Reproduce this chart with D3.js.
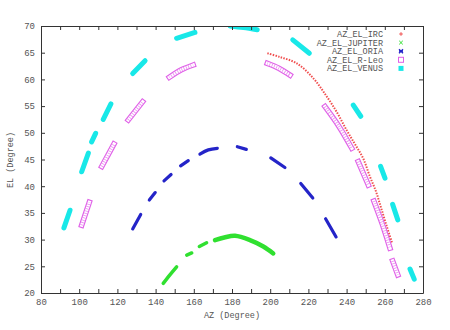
<!DOCTYPE html>
<html>
<head>
<meta charset="utf-8">
<script src="https://cdn.jsdelivr.net/npm/d3@7"></script>
<style>
  body { margin: 0; background: #fff; }
  svg text { font-family: "Liberation Mono", "DejaVu Sans Mono", monospace; fill: #555; }
</style>
</head>
<body>
<svg id="chart" width="450" height="330"></svg>
<script>
// series names (legend order = draw order)
const seriesNames = ["AZ_EL_IRC", "AZ_EL_JUPITER", "AZ_EL_ORIA", "AZ_EL_R-Leo", "AZ_EL_VENUS"];

const ircTrack = [
  [[198.5, 64.9], [205, 64.2], [213.9, 63], [222.6, 60.2], [229.6, 56.8], [235, 53.8], [240, 50.5],
   [244.5, 47.8], [248.7, 45.2], [252, 42], [255.4, 39], [258, 36], [261, 32.5], [263.9, 29.3]]
];
const jupiterTrack = [
  [[144, 21.8], [147.5, 23.4], [151, 24.9]],
  [[156.3, 27.1], [158.9, 27.5]],
  [[162.9, 28.7], [166.7, 29.4]],
  [[171.1, 29.9], [176, 30.4], [181.6, 30.7], [189.4, 29.9], [196.4, 28.7], [201.6, 27.4]]
];
const oriaTrack = [
  [[128, 32], [132.2, 34.7]],
  [[136.7, 37.4], [139.8, 38.8]],
  [[144.4, 41], [148.1, 42.2]],
  [[153.1, 43.8], [157.1, 44.8]],
  [[163.2, 46], [167.6, 46.8], [172.3, 47.1]],
  [[182.8, 47.4], [187.5, 46.9]],
  [[200.3, 45.3], [207.7, 43.5]],
  [[216, 40.5], [222.3, 37.8]],
  [[229, 33.9], [234.5, 30.5]]
];
const rleoTrack = [
  [[101.3, 32.7], [105.3, 37]],
  [[111.8, 43.7], [118.2, 47.9]],
  [[125.7, 52.4], [133.2, 55.8]],
  [[147.2, 60.4], [153.5, 61.8], [159.7, 62.7]],
  [[198.5, 63], [204.5, 62.1], [210.4, 60.8]],
  [[228.7, 54.9], [236, 51.2], [242.7, 47.1]],
  [[246.1, 44.6], [251.4, 40.2]],
  [[254.3, 37.2], [258.6, 33], [262.7, 28.4]],
  [[264.1, 26], [266.8, 23.4]]
];
const venusTrack = [
  [[92, 32.2], [95.2, 35.5]],
  [[101.3, 42.7], [104.8, 46.2]],
  [[106.5, 48.3], [108.6, 49.9]],
  [[112.6, 52.5], [116.6, 55.4]],
  [[128, 61.1], [134.5, 63.5]],
  [[151, 67.7], [160.6, 68.8]],
  [[179, 70], [186, 69.7], [193.2, 69.3]],
  [[211.8, 67.4], [220.5, 64.9]],
  [[243.5, 55.2], [247.4, 53.1]],
  [[257.8, 43.7], [260.1, 41.5]],
  [[264.1, 36.6], [266.8, 33.7]],
  [[273.2, 24.5], [275.4, 22.6]]
];

const xTicks = d3.range(80, 281, 10);
const xLabels = [80, 100, 120, 140, 160, 180, 200, 220, 240, 260, 280];
const yTicks = [20, 25, 30, 35, 40, 45, 50, 55, 60, 65, 70];

const colors = ["#f05050", "#30e030", "#2424c8", "#e060e8", "#18e8e8"];

const svg = d3.select("#chart");
const mLeft = 41, mRight = 423, mTop = 26, mBottom = 293;

const x = d3.scaleLinear().domain([80, 280]).range([mLeft, mRight]);
const y = d3.scaleLinear().domain([20, 70]).range([mBottom, mTop]);

// clip to plot area
svg.append("defs").append("clipPath").attr("id", "plot")
  .append("rect").attr("x", mLeft).attr("y", mTop).attr("width", mRight - mLeft).attr("height", mBottom - mTop);

const line = d3.line().x(d => x(d[0])).y(d => y(d[1])).curve(d3.curveCatmullRom);
const plot = svg.append("g").attr("clip-path", "url(#plot)");

// IRC: chain of small + marks
plot.append("g").selectAll("path").data(ircTrack).enter().append("path")
  .attr("d", line).attr("fill", "none")
  .attr("stroke", colors[0]).attr("stroke-width", 2).attr("stroke-dasharray", "1.5 1.3");

// JUPITER
plot.append("g").selectAll("path").data(jupiterTrack).enter().append("path")
  .attr("d", line).attr("fill", "none")
  .attr("stroke", colors[1]).attr("stroke-width", (d, i) => i === 3 ? 4.5 : 3.5).attr("stroke-linecap", "round");

// ORIA
plot.append("g").selectAll("path").data(oriaTrack).enter().append("path")
  .attr("d", line).attr("fill", "none")
  .attr("stroke", colors[2]).attr("stroke-width", 3.2).attr("stroke-linecap", "round");

// R-Leo: hollow hatched tube
const rl = plot.append("g");
rl.selectAll("path.o").data(rleoTrack).enter().append("path")
  .attr("d", line).attr("fill", "none")
  .attr("stroke", colors[3]).attr("stroke-width", 5.5).attr("stroke-linecap", "square");
rl.selectAll("path.i").data(rleoTrack).enter().append("path")
  .attr("d", line).attr("fill", "none")
  .attr("stroke", "#fff").attr("stroke-width", 3.3).attr("stroke-linecap", "square");
rl.selectAll("path.h").data(rleoTrack).enter().append("path")
  .attr("d", line).attr("fill", "none")
  .attr("stroke", colors[3]).attr("stroke-width", 3.3).attr("stroke-dasharray", "0.8 1.6").attr("opacity", 0.7);

// VENUS
plot.append("g").selectAll("path").data(venusTrack).enter().append("path")
  .attr("d", line).attr("fill", "none")
  .attr("stroke", colors[4]).attr("stroke-width", 5).attr("stroke-linecap", "round");

// axes, ticks inward, mirrored
const fmt = d => xLabels.includes(d) ? d : "";
svg.append("g").attr("transform", `translate(0,${mBottom})`)
  .call(d3.axisBottom(x).tickValues(xTicks).tickFormat(fmt).tickSizeInner(-4).tickSizeOuter(0).tickPadding(6));
svg.append("g").attr("transform", `translate(0,${mTop})`)
  .call(d3.axisTop(x).tickValues(xTicks).tickFormat("").tickSizeInner(-4).tickSizeOuter(0));
svg.append("g").attr("transform", `translate(${mLeft},0)`)
  .call(d3.axisLeft(y).tickValues(yTicks).tickSizeInner(-4).tickSizeOuter(0).tickPadding(6));
svg.append("g").attr("transform", `translate(${mRight},0)`)
  .call(d3.axisRight(y).tickValues(yTicks).tickFormat("").tickSizeInner(-4).tickSizeOuter(0));

svg.selectAll(".domain").attr("stroke", "#333");
svg.selectAll(".tick line").attr("stroke", "#333");
svg.selectAll(".tick text").style("font-size", "9px").attr("fill", "#555");

// axis titles
svg.append("text").attr("x", 232).attr("y", 318).attr("text-anchor", "middle")
  .style("font-size", "8.5px").text("AZ (Degree)");
svg.append("text").attr("transform", "translate(13,160) rotate(-90)").attr("text-anchor", "middle")
  .style("font-size", "8.5px").text("EL (Degree)");

// legend
const lg = svg.append("g");
seriesNames.forEach((name, i) => {
  const ly = 34 + i * 8.6;
  lg.append("text").attr("x", 383).attr("y", ly).attr("dy", "0.35em").attr("text-anchor", "end")
    .style("font-size", "8.5px").text(name);
  const mx = 401;
  const c = colors[i];
  if (i === 0) {
    lg.append("path").attr("d", `M${mx - 1.8},${ly}h3.6M${mx},${ly - 1.8}v3.6`).attr("stroke", c).attr("stroke-width", 1);
  } else if (i === 1) {
    lg.append("path").attr("d", `M${mx - 1.8},${ly - 1.8}l3.6,3.6M${mx - 1.8},${ly + 1.8}l3.6,-3.6`).attr("stroke", c).attr("stroke-width", 1);
  } else if (i === 2) {
    lg.append("path").attr("d", `M${mx - 2},${ly - 2}l4,4M${mx - 2},${ly + 2}l4,-4M${mx - 2},${ly}h4`).attr("stroke", c).attr("stroke-width", 1.3);
  } else if (i === 3) {
    lg.append("rect").attr("x", mx - 2.5).attr("y", ly - 2.5).attr("width", 5).attr("height", 5)
      .attr("fill", "none").attr("stroke", c).attr("stroke-width", 1);
  } else {
    lg.append("rect").attr("x", mx - 2.5).attr("y", ly - 2.5).attr("width", 5).attr("height", 5).attr("fill", c);
  }
});
</script>
</body>
</html>
